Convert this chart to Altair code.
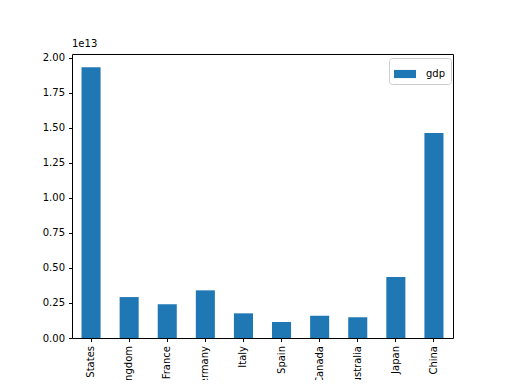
import altair as alt
import pandas as pd

countries = ["United States", "United Kingdom", "France", "Germany", "Italy",
             "Spain", "Canada", "Australia", "Japan", "China"]
gdp = [1.932e13, 0.292e13, 0.240e13, 0.340e13, 0.176e13,
       0.114e13, 0.159e13, 0.148e13, 0.436e13, 1.462e13]
tick_values = [0, 0.25e13, 0.5e13, 0.75e13, 1.0e13, 1.25e13, 1.5e13, 1.75e13, 2.0e13]

df = pd.DataFrame({"country": countries, "gdp": gdp, "series": "gdp"})

FONT = "DejaVu Sans"

chart = alt.Chart(df).mark_bar(color="#1f77b4").encode(
    x=alt.X("country:N", sort=countries, title=None,
            scale=alt.Scale(paddingInner=0.5, paddingOuter=0.25),
            axis=alt.Axis(labelAngle=-90, tickSize=3.5, labelPadding=4,
                          tickColor="black", domain=False, labelColor="black",
                          labelFont=FONT, labelFontSize=10)),
    y=alt.Y("gdp:Q", title=None,
            scale=alt.Scale(domain=[0, 2.0265e13], nice=False, zero=True),
            axis=alt.Axis(values=tick_values, grid=False, tickSize=3.5,
                          tickColor="black", domain=False, labelColor="black",
                          labelFont=FONT, labelFontSize=10, labelPadding=4,
                          labelExpr="format(datum.value/1e13, '.2f')")),
    fill=alt.Fill("series:N", scale=alt.Scale(range=["#1f77b4"]),
                  legend=alt.Legend(title=None, orient="none", legendX=317, legendY=4,
                                    symbolType="M-1,-0.37L1,-0.37L1,0.37L-1,0.37Z",
                                    symbolSize=484, symbolStrokeWidth=0,
                                    labelFont=FONT, labelFontSize=10, labelColor="black",
                                    strokeColor="#cccccc", cornerRadius=3, padding=5,
                                    fillColor="white", labelOffset=10)),
).properties(
    width=381, height=284,
    title=alt.TitleParams("1e13", anchor="start", frame="group", fontSize=10,
                          fontWeight="normal", font=FONT, color="black", offset=4),
    padding={"left": 64, "top": 46, "right": 50, "bottom": 42},
    autosize=alt.AutoSizeParams(type="none"),
).configure_view(stroke="black", strokeWidth=1)

chart.save("out.html", embed_options={"renderer": "svg", "actions": False})
